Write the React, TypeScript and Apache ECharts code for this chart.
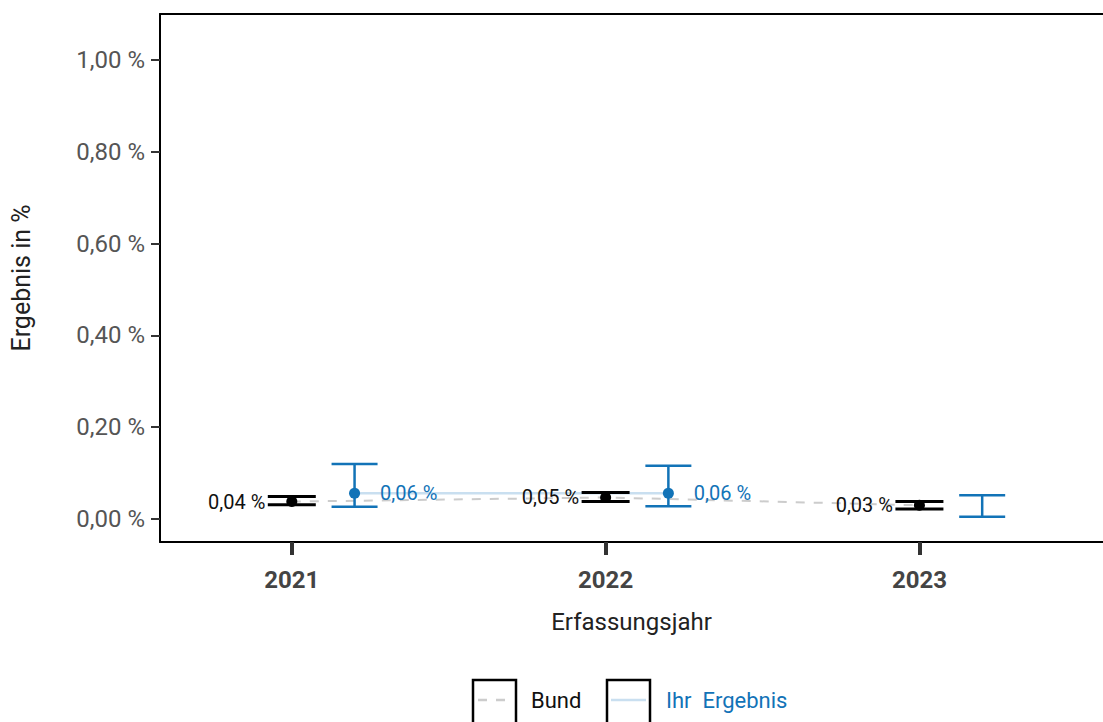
import React, { useEffect, useRef } from "react";
import * as echarts from "echarts";

const years = [2021, 2022, 2023];
const bundValues = [0.038, 0.047, 0.03];
const bundLower = [0.031, 0.038, 0.022];
const bundUpper = [0.049, 0.058, 0.038];
const ihrValues: (number | null)[] = [0.056, 0.056, null];
const ihrLower = [0.027, 0.028, 0.005];
const ihrUpper = [0.12, 0.116, 0.052];
const ihrOffset = 0.2;
const yTicks = [0, 0.2, 0.4, 0.6, 0.8, 1.0];

const BLUE = "#1273b7";
const LIGHTBLUE = "#c9dff0";
const FONT = "Roboto, 'Noto Sans', sans-serif";

const fmt = (v: number) => v.toFixed(2).replace(".", ",") + " %";

function errorBar(color: string, width: number, half: number) {
  return (params: any, api: any) => {
    const x = api.value(0);
    const lo = api.coord([x, api.value(1)]);
    const hi = api.coord([x, api.value(2)]);
    const style = { stroke: color, lineWidth: width };
    return {
      type: "group",
      children: [
        { type: "line", shape: { x1: lo[0], y1: lo[1], x2: hi[0], y2: hi[1] }, style },
        { type: "line", shape: { x1: lo[0] - half, y1: lo[1], x2: lo[0] + half, y2: lo[1] }, style },
        { type: "line", shape: { x1: hi[0] - half, y1: hi[1], x2: hi[0] + half, y2: hi[1] }, style },
      ],
    };
  };
}

export default function App() {
  const ref = useRef<HTMLDivElement>(null);
  useEffect(() => {
    if (!ref.current) return;
    const chart = echarts.init(ref.current, undefined, { renderer: "svg" });
    const bundPts = years.map((y, i) => [y, bundValues[i]]);
    const ihrPts = years
      .map((y, i) => [y + ihrOffset, ihrValues[i]])
      .filter((p) => p[1] !== null);
    chart.setOption({
      animation: false,
      textStyle: { fontFamily: FONT },
      grid: { left: 160, top: 14, right: 0, bottom: 180, outerBoundsMode: "none", containLabel: false },
      xAxis: [
        {
          type: "value",
          min: 2020.58,
          max: 2023.585,
          name: "Erfassungsjahr",
          nameLocation: "middle",
          nameGap: 68,
          nameTextStyle: { fontSize: 24, color: "#222", fontFamily: FONT },
          splitLine: { show: false },
          axisLine: { show: true, onZero: false, lineStyle: { color: "#000", width: 2 } },
          axisTick: {
            show: true,
            customValues: years,
            length: 13,
            lineStyle: { color: "#333", width: 4 },
          },
          axisLabel: {
            customValues: years,
            formatter: (v: number) => String(v),
            fontSize: 24,
            fontWeight: "bold",
            color: "#444",
            margin: 26,
            fontFamily: FONT,
          },
        },
        {
          type: "value",
          position: "top",
          min: 2020.58,
          max: 2023.585,
          splitLine: { show: false },
          axisLine: { show: true, onZero: false, lineStyle: { color: "#000", width: 2 } },
          axisTick: { show: false },
          axisLabel: { show: false },
        },
      ],
      yAxis: {
        type: "value",
        min: -0.05,
        max: 1.1,
        name: "Ergebnis in %",
        nameLocation: "middle",
        nameGap: 126,
        nameTextStyle: { fontSize: 25, color: "#222", fontFamily: FONT },
        splitLine: { show: false },
        axisLine: { show: true, onZero: false, lineStyle: { color: "#000", width: 2 } },
        axisTick: {
          show: true,
          customValues: yTicks,
          length: 9,
          lineStyle: { color: "#333", width: 2 },
        },
        axisLabel: {
          customValues: yTicks,
          formatter: (v: number) => fmt(v),
          fontSize: 24,
          color: "#555",
          margin: 15,
          fontFamily: FONT,
        },
      },
      series: [
        {
          type: "line",
          data: bundPts,
          symbol: "none",
          lineStyle: { color: "#cccccc", width: 2, type: [9, 9] },
          z: 1,
        },
        {
          type: "line",
          data: ihrPts,
          symbol: "none",
          lineStyle: { color: LIGHTBLUE, width: 2.5 },
          z: 1,
        },
        {
          type: "custom",
          renderItem: errorBar("#000", 3, 24),
          data: years.map((y, i) => [y, bundLower[i], bundUpper[i]]),
          encode: { x: 0, y: [1, 2] },
          z: 2,
        },
        {
          type: "custom",
          renderItem: errorBar(BLUE, 2.5, 23),
          data: years.map((y, i) => [y + ihrOffset, ihrLower[i], ihrUpper[i]]),
          encode: { x: 0, y: [1, 2] },
          z: 2,
        },
        {
          type: "scatter",
          data: bundPts,
          symbolSize: 11,
          itemStyle: { color: "#000", opacity: 1 },
          label: {
            show: true,
            position: "left",
            distance: 21,
            formatter: (p: any) => fmt(p.value[1]),
            fontSize: 20,
            color: "#111",
            fontFamily: FONT,
          },
          z: 3,
        },
        {
          type: "scatter",
          data: ihrPts,
          symbolSize: 11,
          itemStyle: { color: BLUE, opacity: 1 },
          label: {
            show: true,
            position: "right",
            distance: 20,
            formatter: (p: any) => fmt(p.value[1]),
            fontSize: 20,
            color: BLUE,
            fontFamily: FONT,
          },
          z: 3,
        },
      ],
      graphic: [
        { type: "rect", shape: { x: 473, y: 680, width: 43, height: 60 }, style: { fill: "none", stroke: "#000", lineWidth: 2.5 } },
        { type: "line", shape: { x1: 478, y1: 700, x2: 512, y2: 700 }, style: { stroke: "#cccccc", lineWidth: 2.5, lineDash: [9, 9] } },
        { type: "text", x: 531, y: 700, style: { text: "Bund", fontSize: 22, fill: "#111", fontFamily: FONT, textVerticalAlign: "middle" } },
        { type: "rect", shape: { x: 607, y: 680, width: 43, height: 60 }, style: { fill: "none", stroke: "#000", lineWidth: 2.5 } },
        { type: "line", shape: { x1: 611, y1: 700, x2: 646, y2: 700 }, style: { stroke: LIGHTBLUE, lineWidth: 2.5 } },
        { type: "text", x: 666, y: 700, style: { text: "Ihr  Ergebnis", fontSize: 22, fill: BLUE, fontFamily: FONT, textVerticalAlign: "middle" } },
      ],
    });
    return () => chart.dispose();
  }, []);
  return (
    <div
      ref={ref}
      style={{ position: "absolute", left: 0, top: 0, width: 1103, height: 722, background: "#fff" }}
    />
  );
}
